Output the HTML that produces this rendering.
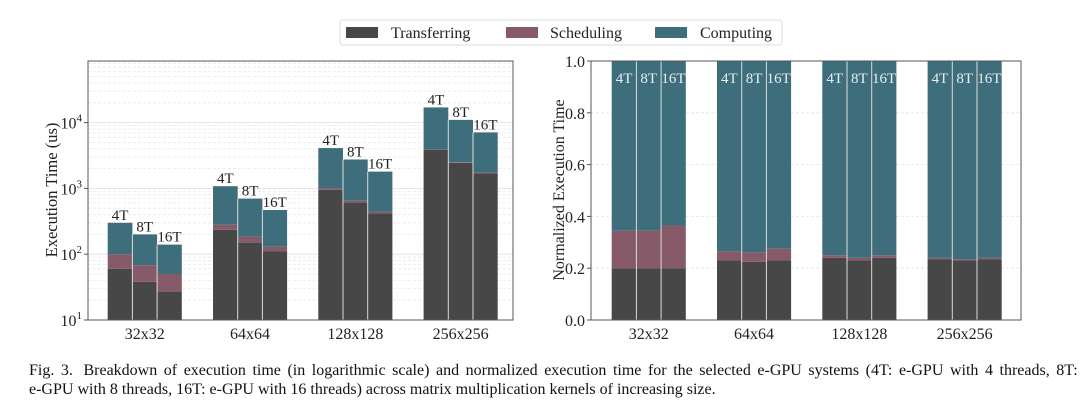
<!DOCTYPE html>
<html><head><meta charset="utf-8"><style>
body{margin:0;width:1080px;height:412px;background:#fff;overflow:hidden;font-family:"Liberation Serif",serif;}
svg{position:absolute;left:0;top:0}
.cap{position:absolute;left:29px;top:361px;width:1049px;font-size:16px;line-height:19px;color:#111;}
.cap .l1{white-space:nowrap;display:flex;justify-content:space-between}
.cap .l2{white-space:nowrap}
</style></head><body>
<svg id="chart" width="1080" height="412" font-family="Liberation Serif, serif"></svg>
<div class="cap"><div class="l1" id="l1">Fig. 3.&nbsp; Breakdown of execution time (in logarithmic scale) and normalized execution time for the selected e-GPU systems (4T: e-GPU with 4 threads, 8T:</div><div class="l2">e-GPU with 8 threads, 16T: e-GPU with 16 threads) across matrix multiplication kernels of increasing size.</div></div>
<script>
(function(){const el=document.getElementById('l1');const words=el.textContent.split(' ').filter(w=>w.length);el.textContent='';words.forEach(w=>{const s=document.createElement('span');s.textContent=w;el.appendChild(s);});})();
const categories=["32x32","64x64","128x128","256x256"];
const threads=["4T","8T","16T"];
const transferAbs=[[60,38,27],[235,150,110],[950,600,420],[3850,2450,1700]];
const schedAbs=[[40,30,23],[45,35,20],[50,50,20],[50,50,50]];
const computeAbs=[[200,132,90],[800,515,340],[3100,2100,1360],[13100,8500,5350]];
const transferNorm=[[0.2,0.2,0.2],[0.23,0.225,0.23],[0.24,0.23,0.24],[0.235,0.23,0.235]];
const schedNorm=[[0.145,0.145,0.165],[0.035,0.035,0.045],[0.01,0.01,0.01],[0.005,0.005,0.005]];
const logTicks=[1,2,3,4];
const normTicks=[0,0.2,0.4,0.6,0.8,1.0];
const C={t:"#474747",s:"#875a69",c:"#3e6d7b"};
const NS="http://www.w3.org/2000/svg";
const svg=document.getElementById('chart');
function mk(tag,attrs,parent,text){const e=document.createElementNS(NS,tag);for(const k in attrs)e.setAttribute(k,attrs[k]);if(text!==undefined)e.textContent=text;(parent||svg).appendChild(e);return e;}
const L={x0:88,x1:513,y0:320,y1:61};
const decade=65.8;
const yLog=v=>L.y0-(Math.log10(v)-1)*decade;
const R={x0:591,x1:1021,y0:320,y1:61};
const yN=v=>R.y0-v*(R.y0-R.y1);
const bw=24.7, gsp=105.3;
const lx=(g,i)=>107.7+g*gsp+i*bw;
const rx=(g,i)=>611.7+g*gsp+i*bw;
const lg=mk('g',{},svg);
for(let d=1;d<5;d++){for(let m=1;m<10;m++){const v=m*Math.pow(10,d);const y=yLog(v);if(y<L.y1||y>=L.y0)continue;
 mk('line',{x1:L.x0,x2:L.x1,y1:y,y2:y,stroke:m==1?"#ddd":"#e8e8e8","stroke-width":0.8,"stroke-dasharray":m==1?"":"3,2"},lg);}}
const rg=mk('g',{},svg);
normTicks.forEach(t=>{if(t>0&&t<1)mk('line',{x1:R.x0,x2:R.x1,y1:yN(t),y2:yN(t),stroke:"#e4e4e4","stroke-width":0.8,"stroke-dasharray":"3,2"},rg);});
categories.forEach((cat,g)=>{threads.forEach((th,i)=>{
 const t=transferAbs[g][i],s=schedAbs[g][i],c=computeAbs[g][i];const x=lx(g,i);
 let r=mk('rect',{x:x,y:yLog(t),width:bw,height:L.y0-yLog(t),fill:C.t});
 
 r=mk('rect',{x:x,y:yLog(t+s),width:bw,height:yLog(t)-yLog(t+s),fill:C.s});
 
 r=mk('rect',{x:x,y:yLog(t+s+c),width:bw,height:yLog(t+s)-yLog(t+s+c),fill:C.c});
 
 if(i>0)mk('line',{x1:x,x2:x,y1:yLog(t+s+c),y2:L.y0,stroke:"#ddd","stroke-width":1});
 const lb=mk('text',{x:x+bw/2,y:yLog(t+s+c)-3,"text-anchor":"middle","font-size":15,fill:"#222"},svg,th);
 
});
 const xl=mk('text',{x:lx(g,0)+1.5*bw,y:339,"text-anchor":"middle","font-size":16,fill:"#222"},svg,cat);
 
});
categories.forEach((cat,g)=>{threads.forEach((th,i)=>{
 const t=transferNorm[g][i],s=schedNorm[g][i];const x=rx(g,i);
 let r=mk('rect',{x:x,y:yN(t),width:bw,height:yN(0)-yN(t),fill:C.t});
 
 r=mk('rect',{x:x,y:yN(t+s),width:bw,height:yN(t)-yN(t+s),fill:C.s});
 
 r=mk('rect',{x:x,y:yN(1),width:bw,height:yN(t+s)-yN(1),fill:C.c});
 
 if(i>0)mk('line',{x1:x,x2:x,y1:R.y1,y2:R.y0,stroke:"#ddd","stroke-width":1});
 const lb=mk('text',{x:x+bw/2,y:83,"text-anchor":"middle","font-size":15,fill:"#e8eef0"},svg,th);
 
});
 const xl=mk('text',{x:rx(g,0)+1.5*bw,y:339,"text-anchor":"middle","font-size":16,fill:"#222"},svg,cat);
 
});
let f=mk('rect',{x:L.x0,y:L.y1,width:L.x1-L.x0,height:L.y0-L.y1,fill:"none",stroke:"#555","stroke-width":1});

f=mk('rect',{x:R.x0,y:R.y1,width:R.x1-R.x0,height:R.y0-R.y1,fill:"none",stroke:"#555","stroke-width":1});

logTicks.forEach(p=>{const y=yLog(Math.pow(10,p));
 mk('line',{x1:L.x0-4,x2:L.x0,y1:y,y2:y,stroke:"#555"});
 const t=mk('text',{x:L.x0-6,y:y+6,"text-anchor":"end","font-size":16,fill:"#222"},svg);
 
 mk('tspan',{},t,"10");mk('tspan',{dy:-7,"font-size":11},t,String(p));});
normTicks.forEach(v=>{const y=yN(v);
 mk('line',{x1:R.x0-4,x2:R.x0,y1:y,y2:y,stroke:"#555"});
 const t=mk('text',{x:R.x0-6,y:y+6,"text-anchor":"end","font-size":16,fill:"#222"},svg,v.toFixed(1));
 });
let yt=mk('text',{x:0,y:0,transform:"translate(57,190) rotate(-90)","text-anchor":"middle","font-size":16.5,fill:"#222"},svg,"Execution Time (us)");

yt=mk('text',{x:0,y:0,transform:"translate(564,190) rotate(-90)","text-anchor":"middle","font-size":16,fill:"#222"},svg,"Normalized Execution Time");

const lgd=mk('g',{},svg);
mk('rect',{x:340,y:20,width:442,height:25,rx:3,fill:"#fff",stroke:"#ddd"},lgd);
[["Transferring",C.t,346,391],["Scheduling",C.s,506,550],["Computing",C.c,655,700]].forEach(e=>{
 const g=mk('g',{},lgd);
 mk('rect',{x:e[2],y:27,width:32,height:11,fill:e[1]},g);
 mk('text',{x:e[3],y:38,"font-size":16,fill:"#222"},g,e[0]);});
</script>
</body></html>
